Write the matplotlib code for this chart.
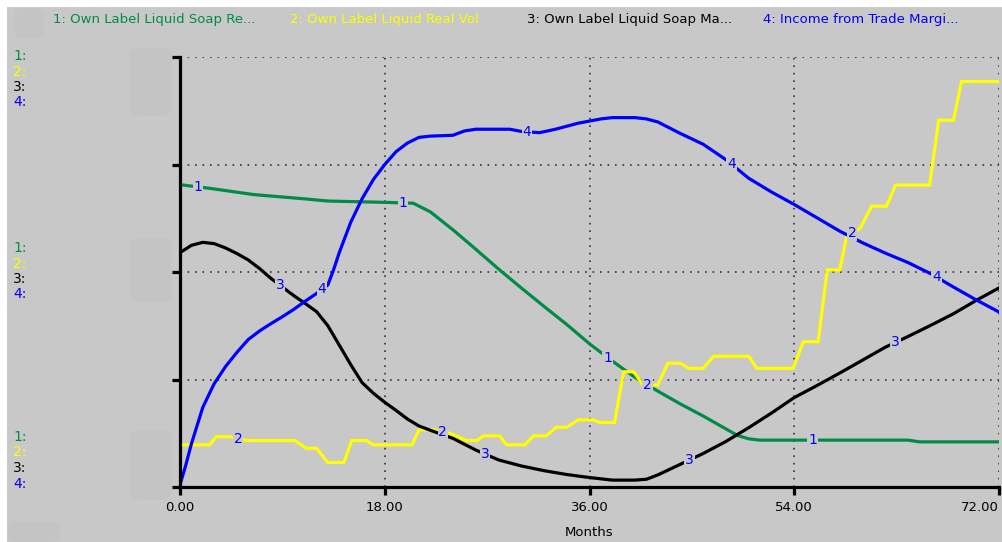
import numpy as np
import matplotlib
matplotlib.use("Agg")
import matplotlib.pyplot as plt
from matplotlib.patches import Rectangle, FancyBboxPatch

# series values (y in % of axis height, scale values are hidden)
soap_rev_months = [0, 2.5, 6.5, 11, 13, 18, 20.5, 22, 24, 26, 28, 30, 32, 34, 36, 38, 40,
                   42, 44, 46, 48, 49, 50, 51, 56, 64, 65, 72]
soap_rev = [70.3, 69.5, 68, 67, 66.5, 66.2, 66, 64, 59.8, 55.3, 50.7, 46.3, 42, 37.8, 33.3,
            29.3, 25.5, 22.3, 19.3, 16.5, 13.5, 12, 11.2, 10.9, 10.9, 10.9, 10.5, 10.5]

real_vol_months = [0, 2.6, 3.2, 4.4, 5.8, 10.1, 11.1, 12, 13, 14.4, 15.1, 16.4, 17, 20.4, 21,
                   22.3, 23.7, 25.2, 26.1, 26.7, 28.1, 28.7, 30.3, 31.1, 32.2, 33.1, 34, 35,
                   36.3, 36.9, 38.2, 39.0, 39.9, 40.7, 42.0, 42.9, 44, 44.7, 46, 46.9, 50,
                   50.7, 53.9, 54.8, 56.1, 56.9, 58, 58.6, 59.8, 60.8, 62.1, 62.9, 65.9, 66.7,
                   68, 68.7, 72]
real_vol = [9.8, 9.8, 11.7, 11.7, 10.8, 10.8, 9.0, 9.0, 5.7, 5.7, 10.8, 10.8, 9.8, 9.8, 13.3,
            13.3, 12.5, 10.8, 10.8, 11.9, 11.9, 9.8, 9.8, 11.9, 11.9, 13.9, 13.9, 15.6,
            15.6, 15.0, 15.0, 26.8, 26.8, 23.7, 23.7, 28.8, 28.8, 27.6, 27.6, 30.4, 30.4,
            27.6, 27.6, 33.8, 33.8, 50.5, 50.5, 58.2, 60.2, 65.3, 65.3, 70.2, 70.2, 85.3,
            85.3, 94.3, 94.3]

soap_margin_months = [0, 1, 2, 3, 4, 5, 6, 7, 8, 9, 10, 11, 12, 13, 14, 15, 16, 17, 18, 19,
                      20, 21, 22, 24, 26, 28, 30, 32, 34, 36, 38, 40, 41, 42, 44, 46, 48, 50,
                      52, 54, 56, 58, 60, 62, 64, 66, 68, 70, 72]
soap_margin = [54.5, 56.2, 56.9, 56.6, 55.6, 54.3, 52.8, 50.8, 48.5, 46.5, 44.5, 42.7, 40.8,
               37.5, 33, 28.5, 24.3, 21.8, 19.7, 17.8, 15.8, 14.2, 13.2, 11.3, 8.6, 6.3, 4.9,
               3.8, 2.9, 2.2, 1.6, 1.6, 1.8, 2.8, 5.3, 7.8, 10.6, 13.8, 17.2, 20.8, 23.6, 26.5,
               29.5, 32.5, 35, 37.6, 40.3, 43.4, 46.3]

trade_months = [0, 0.5, 1, 2, 3, 4, 5, 6, 7, 8, 9, 10, 11, 12, 13, 13.5, 14, 15, 16, 17, 18,
                19, 20, 21, 22, 24, 25, 26, 29, 30, 31.6, 33, 35, 37, 38, 40, 41, 42, 44, 46,
                48, 50, 52, 54, 56, 58, 60, 62, 64, 66, 68, 70, 72]
trade_income = [0.5, 5, 10, 18.5, 24, 28, 31.3, 34.3, 36.3, 38, 39.6, 41.3, 43.2, 45, 47,
                50.5, 54.5, 61.5, 67, 71.5, 75, 78, 80, 81.3, 81.6, 81.8, 82.8, 83.2, 83.2,
                82.7, 82.4, 83.2, 84.6, 85.6, 85.9, 85.9, 85.6, 84.9, 82.2, 79.7, 76.1, 71.8,
                68.6, 65.7, 62.6, 59.5, 56.8, 54.4, 52.2, 49.6, 46.5, 43.5, 40.7]

legend_names = ["1: Own Label Liquid Soap Re...", "2: Own Label Liquid Real Vol",
                "3: Own Label Liquid Soap Ma...", "4: Income from Trade Margi..."]
x_ticks = [0, 18, 36, 54, 72]
x_tick_labels = ["0.00", "18.00", "36.00", "54.00", "72.00"]
marker_months = [[1.6, 19.6, 37.6, 55.6], [5.1, 23.1, 41.1, 59.1],
                 [8.8, 26.8, 44.8, 62.9], [12.5, 30.5, 48.5, 66.5]]

bg = "#c8c8c8"
colors = ["#008c46", "#ffff00", "#000000", "#0000ff"]

W, H = 1002, 542
fig = plt.figure(figsize=(W / 100, H / 100), dpi=100)
fig.patch.set_facecolor("white")
fig.patches.append(Rectangle((7 / W, 0), 1, 1 - 7 / H, transform=fig.transFigure,
                             facecolor=bg, edgecolor="none", zorder=-10))

# smudges where the scale numbers were blanked out
for (x0, y0, w, h) in [(130, 48, 42, 68), (130, 238, 42, 64), (130, 430, 42, 70),
                       (14, 8, 30, 30), (8, 522, 52, 20)]:
    fig.patches.append(FancyBboxPatch((x0 / W, 1 - (y0 + h) / H), w / W, h / H,
                                      boxstyle="round,pad=0,rounding_size=0.012",
                                      transform=fig.transFigure, facecolor="#c4c4c4",
                                      edgecolor="none", zorder=-9))

ax = fig.add_axes([180 / W, 55 / H, 819 / W, 430 / H])
ax.set_facecolor(bg)
ax.set_xlim(0, 72)
ax.set_ylim(0, 100)

series = [(soap_rev_months, soap_rev), (real_vol_months, real_vol),
          (soap_margin_months, soap_margin), (trade_months, trade_income)]
for i, (mx, vy) in enumerate(series):
    ax.plot(mx, vy, color=colors[i], lw=2.3, solid_joinstyle="miter", zorder=3 + i)
    for m in marker_months[i]:
        ax.text(m, np.interp(m, mx, vy), str(i + 1), color="#0000ff", fontsize=10,
                ha="center", va="center", zorder=10,
                bbox=dict(facecolor=bg, edgecolor="none", pad=0.6))

# dotted grid
for gx in [18, 36, 54, 72]:
    ax.axvline(gx, color="#333333", lw=1.2, ls=(0, (1, 3.5)), zorder=1)
for gy in [25, 50, 75, 100]:
    ax.axhline(gy, color="#333333", lw=1.2, ls=(0, (1, 3.5)), zorder=1)

for s in ["top", "right"]:
    ax.spines[s].set_visible(False)
for s in ["left", "bottom"]:
    ax.spines[s].set_linewidth(2.3)
ax.spines["left"].set_zorder(8)
ax.spines["bottom"].set_zorder(8)

ax.set_xticks(x_ticks)
ax.set_xticklabels(x_tick_labels, fontsize=9.5)
ax.get_xticklabels()[-1].set_horizontalalignment("right")
ax.set_yticks([0, 25, 50, 75, 100])
ax.set_yticklabels([])
ax.tick_params(direction="out", length=6, width=2.3, pad=4)
ax.set_xlabel("Months", fontsize=9.5, labelpad=9)

# top legend
for name, c, x0 in zip(legend_names, colors, [53, 290, 527, 763]):
    fig.text(x0 / W, 1 - 20 / H, name, color=c, fontsize=9.5, ha="left", va="center")

# left-hand series number columns
for y0 in [56, 248, 437]:
    for k, c in enumerate(colors):
        fig.text(13 / W, 1 - (y0 + k * 15.5) / H, f"{k + 1}:", color=c, fontsize=10,
                 ha="left", va="center")

fig.savefig("out.png", dpi=100, facecolor=fig.get_facecolor())
